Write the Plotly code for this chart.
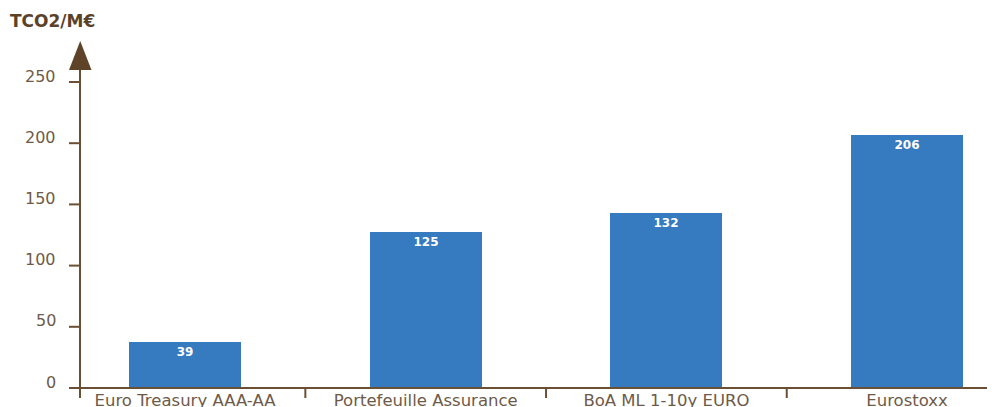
import plotly.graph_objects as go

categories = ["Euro Treasury AAA-AA", "Portefeuille Assurance", "BoA ML 1-10y EURO", "Eurostoxx"]
bar_heights = [37.6, 127.5, 143.0, 206.7]
value_labels = ["39", "125", "132", "206"]
y_ticks = [0, 50, 100, 150, 200, 250]
y_title = "TCO2/M€"

BROWN = "#6b4f35"
TICK_TXT = "#6e5a48"
BLUE = "#367ac0"
FONT = "DejaVu Sans"

OFF = 8  # default page body margin
W, H = 995 - OFF, 407 - OFF
L, T = 80 - OFF, 40 - OFF
R = 0
B = H - (388 - OFF)
pw, ph = W - L - R, H - T - B
px_per_unit = 1.224
y_max = ph / px_per_unit
cat_w = 240.7
x0 = (80 - 185) / cat_w
x1 = (995 - 185) / cat_w

fig = go.Figure(go.Bar(
    x=list(range(len(categories))), y=bar_heights,
    text=value_labels, textposition="inside", insidetextanchor="end",
    textfont=dict(color="white", size=12, family=FONT, weight="bold"),
    marker=dict(color=BLUE, line=dict(width=0)),
    width=112 / cat_w, cliponaxis=False, textangle=0,
))

# page-pixel -> paper coordinates
def px2paper_x(px):
    return (px - OFF - L) / pw

def px2paper_y(py):
    return (H - B - (py - OFF)) / ph

shapes = []
shapes.append(dict(type="line", xref="paper", yref="paper",
                   x0=px2paper_x(69), x1=1.0, y0=0, y1=0,
                   line=dict(color=BROWN, width=2)))
shapes.append(dict(type="line", xref="paper", yref="paper",
                   x0=0, x1=0, y0=px2paper_y(398), y1=px2paper_y(68),
                   line=dict(color=BROWN, width=2)))
shapes.append(dict(type="path", xref="paper", yref="paper",
                   path=f"M {px2paper_x(69)} {px2paper_y(70)} L {px2paper_x(91.5)} {px2paper_y(70)} L {px2paper_x(80.2)} {px2paper_y(41)} Z",
                   fillcolor="#5e4329", line=dict(width=0)))
for i in range(len(categories) - 1):
    shapes.append(dict(type="line", xref="x", yref="paper",
                       x0=i + 0.5, x1=i + 0.5, y0=0, y1=px2paper_y(398),
                       line=dict(color=BROWN, width=2)))
for v in y_ticks:
    shapes.append(dict(type="line", xref="paper", yref="y",
                       x0=px2paper_x(69), x1=0, y0=v, y1=v,
                       line=dict(color=BROWN, width=2)))

annotations = []
for v in y_ticks:
    annotations.append(dict(xref="paper", yref="y", x=px2paper_x(58), y=v,
                            text=str(v), showarrow=False, xanchor="right",
                            yanchor="middle", yshift=6,
                            font=dict(family=FONT, size=16, color=TICK_TXT)))
annotations.append(dict(xref="paper", yref="paper", x=px2paper_x(8), y=px2paper_y(21),
                        text=y_title, showarrow=False, xanchor="left", yanchor="middle",
                        font=dict(family=FONT, size=17, color="#5a4128", weight="bold")))

fig.update_layout(
    width=W, height=H,
    margin=dict(l=L, r=R, t=T, b=B, autoexpand=False),
    plot_bgcolor="white", paper_bgcolor="white",
    showlegend=False, bargap=0,
    xaxis=dict(range=[x0, x1], tickmode="array", tickvals=list(range(len(categories))),
               ticktext=categories, showgrid=False, zeroline=False, showline=False,
               ticks="", automargin=False,
               tickfont=dict(family=FONT, size=16.5, color=TICK_TXT)),
    yaxis=dict(range=[0, y_max], showgrid=False, zeroline=False, showline=False,
               showticklabels=False, ticks="", automargin=False),
    shapes=shapes, annotations=annotations,
)

fig.write_html("out.html")
